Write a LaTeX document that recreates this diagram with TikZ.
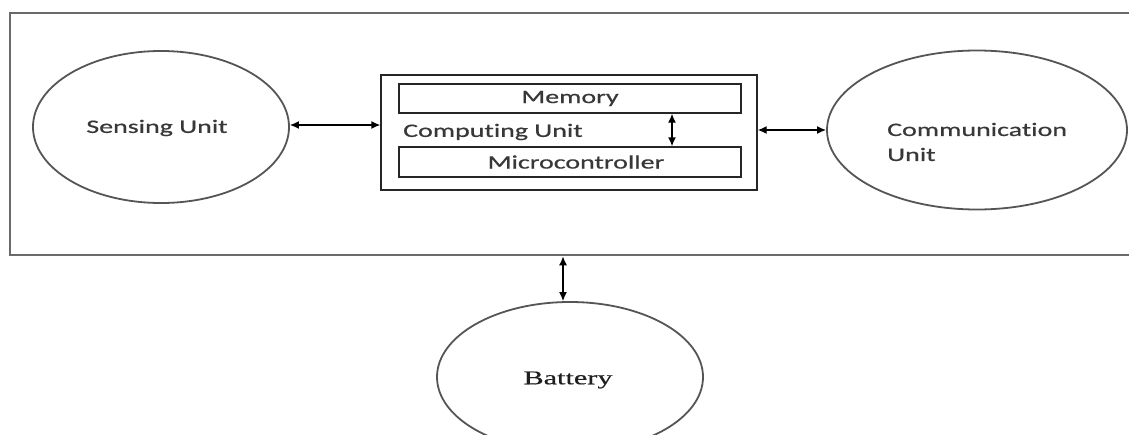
\documentclass[tikz,border=0pt]{standalone}
\usepackage{fontspec}
\usetikzlibrary{shapes.geometric,arrows.meta}
\newfontfamily\calib[FakeStretch=1.47,FakeBold=0.6,Ligatures=NoCommon]{Carlito}
\newfontfamily\tms[FakeStretch=1.55,FakeBold=0.5]{Liberation Serif}
\definecolor{txtgray}{HTML}{383838}
\definecolor{linegray}{HTML}{555555}
\definecolor{framegray}{HTML}{6A6A6A}
\tikzset{
  unit/.style={ellipse,draw=linegray,line width=1.8pt,inner sep=0pt},
  box/.style={rectangle,draw=black!85,line width=1.4pt,inner sep=0pt},
  lbl/.style={font=\calib\fontsize{19}{25}\selectfont,text=txtgray,inner sep=0pt},
  arr/.style={{Latex[length=9pt,width=8pt]}-{Latex[length=9pt,width=8pt]},line width=1.4pt,black},
}
\begin{document}
\begin{tikzpicture}[x=1pt,y=-1pt]
\clip (0,0) rectangle (1129,434);
\fill[white] (0,0) rectangle (1129,434);
% outer frame (right side beyond the picture)
\node[rectangle,draw=framegray,line width=2.6pt,minimum width=1150pt,minimum height=242pt,inner sep=0pt] (outer) at (585,134) {};
% sensing unit
\node[unit,minimum width=256pt,minimum height=152pt] (sens) at (161,127) {};
\node[lbl] (senst) at (157,128) {Sensing Unit};
% computing unit
\node[box,minimum width=376pt,minimum height=115pt] (comp) at (569,132.5) {};
\node[box,minimum width=342pt,minimum height=29pt,lbl] (mem) at (570,98.5) {Memory};
\node[box,minimum width=342pt,minimum height=30pt,lbl] (mic) at (570,162) {\hspace{12pt}Microcontroller};
\node[lbl,anchor=west] (compt) at (403,132) {Computing Unit};
\draw[arr] ([xshift=102pt]mem.south) -- ([xshift=102pt]mic.north);
% communication unit
\node[unit,minimum width=300pt,minimum height=159pt] (comm) at (977,130) {};
\node[lbl,anchor=west,align=left] (commt) at (887,142) {Communication\\Unit};
% battery
\node[unit,minimum width=266pt,minimum height=150pt] (bat) at (570,377) {};
\node[font=\tms\fontsize{19.5}{24}\selectfont,text=black!88,inner sep=0pt] (batt) at (568,380) {Battery};
% connectors
\draw[arr] ([yshift=2pt]sens.east) -- ([yshift=2pt]sens.east -| comp.west);
\draw[arr] (comp.east |- comm.west) -- (comm.west);
\draw[arr] ([xshift=-7pt]bat.north) -- ([xshift=-7pt]bat.north |- outer.south);
\end{tikzpicture}
\end{document}
